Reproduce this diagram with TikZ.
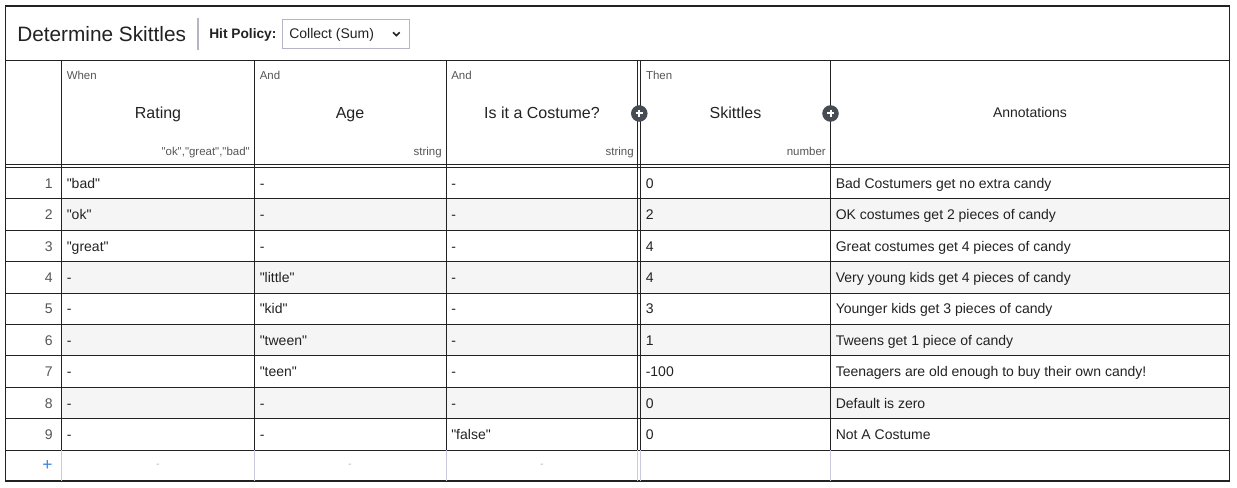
\documentclass[tikz,border=0pt]{standalone}
\usepackage{fontspec}
\newfontfamily\uifont{Liberation Sans}
\definecolor{ink}{HTML}{222222}
\definecolor{rowgray}{HTML}{F5F5F5}
\definecolor{labgray}{HTML}{555555}
\definecolor{btngray}{HTML}{474C54}
\definecolor{addline}{HTML}{C8C8DE}
\definecolor{addblue}{HTML}{3B82E0}
\definecolor{sepgray}{HTML}{B5B5C5}
\definecolor{dashgray}{HTML}{BBBBBB}
\begin{document}
\begin{tikzpicture}[x=0.75pt,y=-0.75pt]
	\tikzset{cell/.style={anchor=base west, inner sep=0pt, font=\uifont\fontsize{10.5}{12}\selectfont, text=ink},
	rownum/.style={anchor=base east, inner sep=0pt, font=\uifont\fontsize{10.5}{12}\selectfont, text=labgray},
	kind/.style={anchor=base east, inner sep=0pt, font=\uifont\fontsize{8.6}{10}\selectfont, text=labgray},
	clause/.style={anchor=base west, inner sep=0pt, font=\uifont\fontsize{8.6}{10}\selectfont, text=labgray},
	head/.style={anchor=base, inner sep=0pt, font=\uifont\fontsize{12}{14}\selectfont, text=ink},
	addcol/.style={circle, fill=btngray, minimum size=12.4pt, inner sep=0pt},
	grid/.style={ink, line width=0.75pt},
	faint/.style={addline, line width=0.75pt}};
	\useasboundingbox (0,0) rectangle (1237,488);

	% striped rows
	\foreach \i in {2,4,6,8}{
		\fill[rowgray] (61.5,{167.5+(\i-1)*31.4}) rectangle (1229.5,{167.5+\i*31.4});
	}

	% title bar
	\node[anchor=base west, inner sep=0pt, font=\uifont\fontsize{15.6}{18}\selectfont, text=ink] (title) at (17,41.3) {Determine Skittles};
	\draw[sepgray, line width=1.5pt] (197.5,18) -- (197.5,50);
	\node[anchor=base west, inner sep=0pt, font=\uifont\bfseries\fontsize{10.3}{12}\selectfont, text=ink] (policy) at (209,38.8) {Hit Policy:};
	\draw[sepgray, line width=0.75pt] (282.5,19.5) rectangle (409.5,48.5);
	\node[cell] (collect) at (289,39) {Collect (Sum)};
	\draw[ink, line width=1.2pt] (393,32.3) -- (396.3,35.6) -- (399.6,32.3);

	% grid
	\draw[ink, line width=0.9pt] (5.5,6) rectangle (1229.5,481);
	\draw[grid] (5.5,61) -- (1229.5,61);
	\draw[grid] (5.5,164.5) -- (1229.5,164.5) (5.5,167.5) -- (1229.5,167.5);
	\foreach \i in {1,...,9}{
		\draw[grid] (5.5,{167.5+\i*31.4}) -- (1229.5,{167.5+\i*31.4});
	}
	\foreach \x in {61.5,254.5,446,637.8,640.8,830.5}{
		\draw[grid] (\x,61) -- (\x,450.1);
		\draw[faint] (\x,450.1) -- (\x,481);
	}

	% column headers
	\foreach \x/\cx/\xr/\cl/\nm/\ty/\n in {61.5/158/250/When/Rating/{"ok","great","bad"}/ra,
	254.5/350/442/And/Age/string/ag, 446/542/634/And/Is it a Costume?/string/co,
	640.8/735.5/826/Then/Skittles/number/sk}{
		\node[clause] (\n cl) at (\x+5,79.5) {\cl};
		\node[head] (\n nm) at (\cx,118.7) {\nm};
		\node[kind] (\n ty) at (\xr,155.5) {\ty};
	}
	\node[head, font=\uifont\fontsize{10.5}{12}\selectfont] (an nm) at (1030,118) {Annotations};

	% add column buttons
	\foreach \x/\b in {639.3/pa, 830.5/pb}{
		\node[addcol] (\b) at (\x,113.5) {};
		\draw[white, line width=1.5pt] (\b.center) ++(-3.6,0) -- ++(7.2,0);
		\draw[white, line width=1.5pt] (\b.center) ++(0,-3.6) -- ++(0,7.2);
	}

	% rules
	\foreach \i/\ra/\ag/\co/\sk/\an in {1/"bad"/-/-/0/Bad Costumers get no extra candy,
	2/"ok"/-/-/2/OK costumes get 2 pieces of candy,
	3/"great"/-/-/4/Great costumes get 4 pieces of candy,
	4/-/"little"/-/4/Very young kids get 4 pieces of candy,
	5/-/"kid"/-/3/Younger kids get 3 pieces of candy,
	6/-/"tween"/-/1/Tweens get 1 piece of candy,
	7/-/"teen"/-/-100/Teenagers are old enough to buy their own candy!,
	8/-/-/-/0/Default is zero,
	9/-/-/"false"/0/Not A Costume}{
		\node[rownum] (n\i) at (53,{167.5+(\i-0.5)*31.4+5}) {\i};
		\node[cell] (ra\i) at (66.5,{167.5+(\i-0.5)*31.4+5}) {\ra};
		\node[cell] (ag\i) at (259.5,{167.5+(\i-0.5)*31.4+5}) {\ag};
		\node[cell] (co\i) at (451,{167.5+(\i-0.5)*31.4+5}) {\co};
		\node[cell] (sk\i) at (645.5,{167.5+(\i-0.5)*31.4+5}) {\sk};
		\node[cell] (an\i) at (835.5,{167.5+(\i-0.5)*31.4+5}) {\an};
	}

	% add rule row
	\node[anchor=center, inner sep=0pt, font=\uifont\fontsize{13}{14}\selectfont, text=addblue] (addrow) at (47.5,465.5) {+};
	\foreach \x/\n in {158/ra, 350/ag, 542/co}{
		\node[anchor=center, inner sep=0pt, font=\uifont\fontsize{8}{10}\selectfont, text=dashgray] (\n add) at (\x,466) {-};
	}
\end{tikzpicture}
\end{document}
